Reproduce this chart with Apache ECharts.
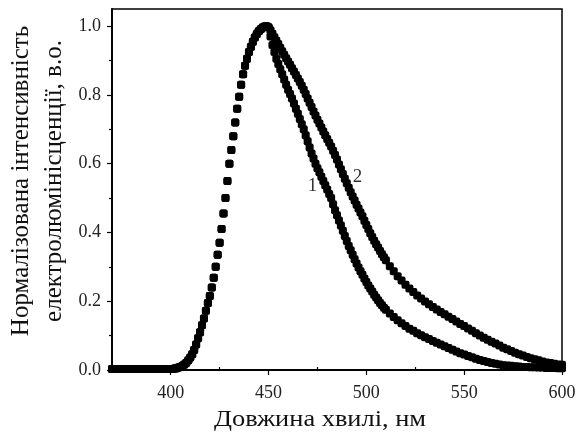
<!DOCTYPE html>
<html>
<head>
<meta charset="utf-8">
<script src="https://cdn.jsdelivr.net/npm/echarts@6/dist/echarts.min.js"></script>
<style>
  html, body { margin: 0; padding: 0; background: #fff; }
  #chart { width: 579px; height: 434px; }
</style>
</head>
<body>
<div id="chart"></div>
<script>
  // спільна частина обох спектрів (фон + наростання до піку)
  const riseWl = [370, 372, 374, 376, 378, 380, 382, 384, 386, 388, 390, 392, 394, 396, 398,
    400, 401, 402, 403, 404, 405, 406, 407, 408, 409, 410, 411, 412, 413, 414, 415, 416, 417,
    418, 419, 420, 421, 422, 423, 424, 425, 426, 427, 428, 429, 430, 431, 432, 433, 434, 435,
    436, 437, 438, 439, 440, 441, 442, 443, 444, 445, 446, 447, 448, 449, 450]
  const riseInt = [0.003, 0.003, 0.003, 0.003, 0.003, 0.003, 0.003, 0.003, 0.003, 0.003, 0.003, 0.003, 0.003, 0.003, 0.003,
    0.003, 0.003, 0.004, 0.005, 0.007, 0.009, 0.012, 0.016, 0.021, 0.028, 0.036, 0.046, 0.058, 0.074, 0.092, 0.11, 0.13, 0.15,
    0.172, 0.195, 0.215, 0.24, 0.268, 0.3, 0.335, 0.37, 0.41, 0.455, 0.5, 0.55, 0.6, 0.64, 0.68, 0.72, 0.76, 0.795,
    0.83, 0.86, 0.885, 0.905, 0.925, 0.94, 0.955, 0.967, 0.977, 0.985, 0.991, 0.996, 0.999, 1.0, 0.997]

  // спад після піку
  const tailWl = [451, 452, 453, 454, 455, 456, 457, 458, 459, 460, 461, 462, 463, 464, 465,
    466, 467, 468, 469, 470, 471, 472, 473, 474, 475, 476, 477, 478, 479, 480, 481, 482, 483,
    484, 485, 486, 487, 488, 489, 490, 491, 492, 493, 494, 495, 496, 497, 498, 499, 500, 501,
    502, 503, 504, 505, 506, 507, 508, 509, 510,
    512, 514, 516, 518, 520, 522, 524, 526, 528, 530, 532, 534, 536, 538, 540, 542, 544, 546,
    548, 550, 552, 554, 556, 558, 560, 562, 564, 566, 568, 570, 572, 574, 576, 578, 580, 582,
    584, 586, 588, 590, 592, 594, 596, 598, 600]
  const tail1 = [0.97, 0.945, 0.925, 0.905, 0.89, 0.875, 0.86, 0.845, 0.83, 0.815, 0.803, 0.79, 0.775, 0.76, 0.745,
    0.73, 0.715, 0.7, 0.683, 0.665, 0.647, 0.63, 0.615, 0.6, 0.587, 0.575, 0.562, 0.55, 0.537, 0.525, 0.512, 0.5, 0.482,
    0.465, 0.45, 0.435, 0.42, 0.405, 0.39, 0.375, 0.361, 0.348, 0.335, 0.322, 0.31, 0.298, 0.287, 0.277, 0.266, 0.256, 0.246,
    0.237, 0.228, 0.219, 0.211, 0.203, 0.195, 0.188, 0.181, 0.175,
    0.164, 0.154, 0.145, 0.136, 0.128, 0.12, 0.114, 0.107, 0.101, 0.095, 0.09, 0.084, 0.079, 0.074, 0.069, 0.064, 0.059, 0.054,
    0.049, 0.045, 0.041, 0.037, 0.033, 0.029, 0.026, 0.023, 0.02, 0.018, 0.016, 0.014, 0.013, 0.012, 0.011, 0.01, 0.009, 0.009,
    0.008, 0.008, 0.007, 0.007, 0.006, 0.006, 0.006, 0.005, 0.005]
  const tail2 = [0.988, 0.978, 0.968, 0.958, 0.948, 0.937, 0.927, 0.917, 0.907, 0.897, 0.888, 0.878, 0.868, 0.858, 0.848,
    0.838, 0.827, 0.815, 0.803, 0.79, 0.777, 0.765, 0.752, 0.74, 0.728, 0.717, 0.705, 0.694, 0.683, 0.672, 0.661, 0.65, 0.638,
    0.625, 0.612, 0.598, 0.584, 0.57, 0.556, 0.543, 0.53, 0.517, 0.505, 0.493, 0.481, 0.47, 0.458, 0.447, 0.434, 0.422, 0.41,
    0.398, 0.387, 0.376, 0.366, 0.356, 0.346, 0.337, 0.328, 0.319,
    0.302, 0.287, 0.273, 0.26, 0.248, 0.237, 0.227, 0.217, 0.208, 0.199, 0.191, 0.183, 0.176, 0.169, 0.162, 0.155, 0.148, 0.141,
    0.134, 0.128, 0.121, 0.114, 0.107, 0.1, 0.094, 0.088, 0.082, 0.077, 0.071, 0.065, 0.06, 0.055, 0.05, 0.046, 0.042, 0.038,
    0.034, 0.031, 0.028, 0.025, 0.022, 0.02, 0.018, 0.016, 0.015]

  const xMajor = [400, 450, 500, 550, 600]
  const xMinor = [375, 425, 475, 525, 575]
  const yMajor = [0, 0.2, 0.4, 0.6, 0.8, 1.0]
  const yMinor = [0.1, 0.3, 0.5, 0.7, 0.9]

  const curveNames = ['1', '2']
  const curveLabelAt = [[472.5, 0.535], [495.5, 0.56]]

  const serif = 'Liberation Serif, Times New Roman, serif'

  function pairs(wl, vals) {
    return wl.map((w, i) => [w, vals[i]])
  }
  const data1 = pairs(riseWl, riseInt).concat(pairs(tailWl, tail1))
  const data2 = pairs(riseWl, riseInt).concat(pairs(tailWl, tail2))

  function curve(name, data, at) {
    return {
      name: name,
      type: 'scatter',
      data: data,
      symbol: 'roundRect',
      symbolSize: 8,
      itemStyle: { color: '#000', opacity: 1 },
      silent: true,
      markPoint: {
        symbol: 'rect',
        symbolSize: 1,
        itemStyle: { color: 'rgba(0,0,0,0)' },
        label: {
          show: true,
          formatter: name,
          color: '#333',
          fontSize: 19,
          fontFamily: serif
        },
        data: [{ coord: at }]
      }
    }
  }

  const axisBase = {
    type: 'value',
    axisLine: { show: true, lineStyle: { color: '#000', width: 1.5 } },
    splitLine: { show: false }
  }

  const chart = echarts.init(document.getElementById('chart'))
  chart.setOption({
    animation: false,
    backgroundColor: '#fff',
    grid: {
      left: 112, right: 17, top: 9, bottom: 64,
      show: true, borderColor: '#000', borderWidth: 1.5
    },
    xAxis: [Object.assign({}, axisBase, {
      min: 370, max: 600,
      axisTick: { show: true, length: 5, customValues: xMajor, lineStyle: { color: '#000', width: 1.2 } },
      axisLabel: { customValues: xMajor, color: '#222', fontSize: 18, fontFamily: serif, margin: 14 }
    }), Object.assign({}, axisBase, {
      min: 370, max: 600,
      axisTick: { show: true, length: 3, customValues: xMinor, lineStyle: { color: '#000', width: 1.2 } },
      axisLabel: { show: false }
    })],
    yAxis: [Object.assign({}, axisBase, {
      min: 0, max: 1.05,
      axisTick: { show: true, length: 5, customValues: yMajor, lineStyle: { color: '#000', width: 1.2 } },
      axisLabel: {
        customValues: yMajor, color: '#222', fontSize: 18, fontFamily: serif, margin: 11,
        formatter: v => v.toFixed(1)
      }
    }), Object.assign({}, axisBase, {
      min: 0, max: 1.05,
      position: 'left',
      axisTick: { show: true, length: 3, customValues: yMinor, lineStyle: { color: '#000', width: 1.2 } },
      axisLabel: { show: false }
    })],
    graphic: [{
      type: 'text',
      x: 320,
      y: 420,
      scaleX: 1.1,
      style: {
        text: 'Довжина хвилі, нм',
        font: '24px ' + serif,
        fill: '#111',
        align: 'center',
        verticalAlign: 'middle'
      }
    }, {
      type: 'text',
      x: 38,
      y: 181,
      rotation: Math.PI / 2,
      style: {
        text: 'Нормалізована інтенсивність\nелектролюмінісценції, в.о.',
        font: '25px ' + serif,
        fill: '#111',
        align: 'center',
        verticalAlign: 'middle',
        lineHeight: 33
      }
    }],
    series: [
      curve(curveNames[0], data1, curveLabelAt[0]),
      curve(curveNames[1], data2, curveLabelAt[1])
    ]
  })
</script>
</body>
</html>
